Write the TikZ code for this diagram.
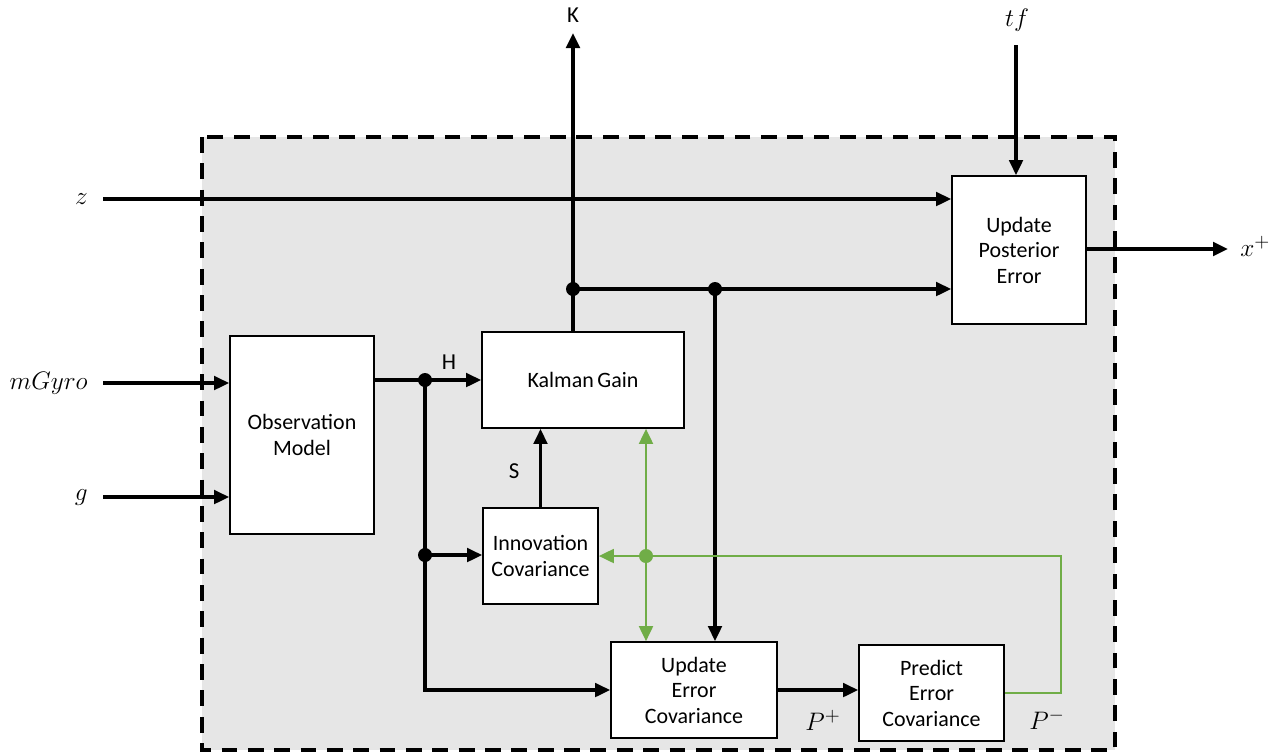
\documentclass[tikz,border=0pt]{standalone}
\usepackage{fontspec}
\setmainfont{Carlito}
\usetikzlibrary{arrows.meta}
\definecolor{bggray}{HTML}{E6E6E6}
\definecolor{grn}{HTML}{70AD47}
\tikzset{
  box/.style={draw=black, line width=1pt, fill=white, align=center, inner sep=2pt,
    font=\fontsize{12.5}{14.5}\selectfont},
  arr/.style={line width=1.9pt, -{Triangle[length=0.3cm,width=0.27cm]}},
  ln/.style={line width=1.9pt},
  garr/.style={grn, line width=1.1pt, -{Triangle[length=0.3cm,width=0.28cm]}},
  gln/.style={grn, line width=1.1pt},
  dot/.style={circle, fill=black, inner sep=0pt, minimum size=0.28cm},
  gdot/.style={circle, fill=grn, inner sep=0pt, minimum size=0.28cm},
  mlab/.style={font=\fontsize{15}{18}\selectfont, inner sep=0pt},
  slab/.style={font=\fontsize{13}{15}\selectfont, inner sep=0pt},
}
\begin{document}
\begin{tikzpicture}[x=0.02cm,y=-0.02cm]
\useasboundingbox (0,0) rectangle (1273,755);
% dashed frame
\draw[fill=bggray, line width=1.8pt, dash pattern=on 9pt off 6pt] (202,137) rectangle (1115,750);

% boxes
\node[box, minimum width=2.88cm, minimum height=3.96cm] (obs) at (302,435) {Observation\\Model};
\node[box, minimum width=4.04cm, minimum height=1.92cm] (kal) at (583,380) {Kalman\,Gain};
\node[box, minimum width=2.30cm, minimum height=1.92cm] (inn) at (540.5,556) {Innovation\\Covariance};
\node[box, minimum width=3.32cm, minimum height=1.92cm] (uec) at (694,690) {Update\\Error\\Covariance};
\node[box, minimum width=2.90cm, minimum height=1.92cm] (pec) at (931.5,693) {Predict\\Error\\Covariance};
\node[box, minimum width=2.68cm, minimum height=2.96cm] (upe) at (1019,250) {Update\\Posterior\\Error};

% input labels and free ends
\node[mlab, anchor=east] (zl) at (88,199) {$z$};
\node[mlab, anchor=east] (ml) at (88,383) {$mGyro$};
\node[mlab, anchor=east] (gl) at (88,497) {$g$};
\node[mlab] (tfl) at (1017,20) {$tf$};
\node[mlab, anchor=west] (xl) at (1240,246) {$x^{+}$};
\node[slab] (Kl) at (573,15) {K};
\node[slab] (Hl) at (449,362) {H};
\node[slab] (Sl) at (514,471) {S};
\node[mlab] (Ppl) at (823,720) {$P^{+}$};
\node[mlab] (Pml) at (1047,719) {$P^{-}$};

\coordinate (zin) at (103,199);
\coordinate (min) at (103,383);
\coordinate (gin) at (103,497);
\coordinate (tfin) at (1016,45);
\coordinate (Kout) at (573,33);
\coordinate (xout) at (1228,249);

% junctions
\node[dot] (jH) at (425,380) {};
\node[dot] (jI) at (425,555) {};
\node[dot] (jK) at (573,289) {};
\node[dot] (jU) at (715,289) {};
\node[gdot] (jG) at (646,556) {};
\coordinate (gc1) at (1061,693);
\coordinate (gc2) at (1061,556);

% black connectors
\draw[arr] (zin) -- (zin -| upe.west);
\draw[arr] (min) -- (min -| obs.west);
\draw[arr] (gin) -- (gin -| obs.west);
\draw[arr] (tfin) -- (tfin |- upe.north);
\draw[arr] (upe.east |- xout) -- (xout);
\draw[ln] (jH -| obs.east) -- (jH.center);
\draw[arr] (jH.center) -- (jH -| kal.west);
\draw[ln] (jH.center) -- (jI.center);
\draw[arr] (jI.center) -- (jI -| inn.west);
\draw[arr] (jI.center) -- (jI |- uec.west) -- (uec.west);
\draw[arr] (inn.north) -- (inn.north |- kal.south);
\draw[ln] (jK |- kal.north) -- (jK.center);
\draw[arr] (jK.center) -- (Kout);
\draw[ln] (jK.center) -- (jU.center);
\draw[arr] (jU.center) -- (jU -| upe.west);
\draw[arr] (jU.center) -- (jU |- uec.north);
\draw[arr] (uec.east) -- (uec.east -| pec.west);

% green connectors
\draw[gln] (pec.east |- gc1) -- (gc1) -- (gc2) -- (jG.center);
\draw[garr] (jG.center) -- (jG -| inn.east);
\draw[garr] (jG.center) -- (jG |- kal.south);
\draw[garr] (jG.center) -- (jG |- uec.north);
\end{tikzpicture}
\end{document}
